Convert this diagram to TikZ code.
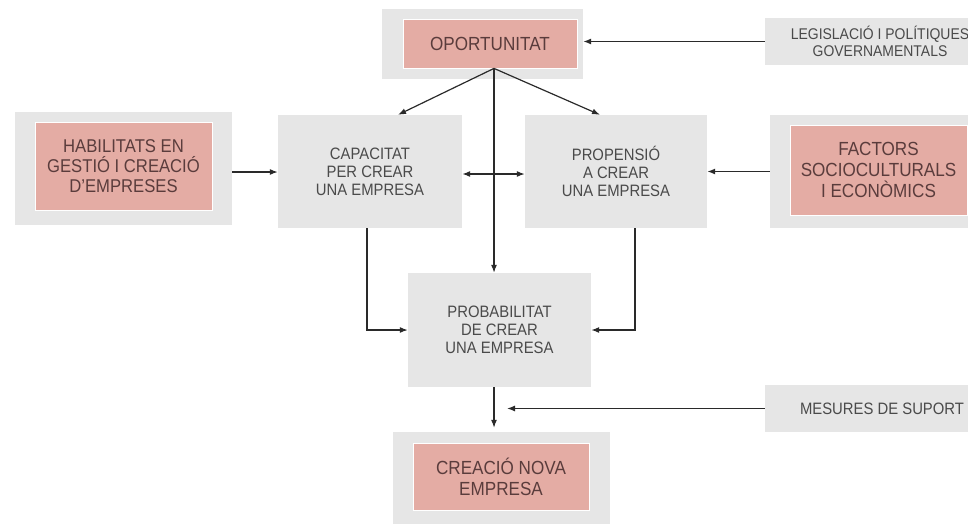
\documentclass[tikz,border=0pt]{standalone}
\usepackage{fontspec}
\setmainfont{Liberation Sans}[FakeStretch=0.9]
\usetikzlibrary{arrows.meta}
\definecolor{boxgrey}{HTML}{E6E6E6}
\definecolor{boxpink}{HTML}{E4ACA4}
\definecolor{txtgrey}{HTML}{4A4A4A}
\definecolor{txtpink}{HTML}{5A3C3C}
\definecolor{linecol}{HTML}{2A2A2A}
\begin{document}
\begin{tikzpicture}[x=1pt,y=-1pt,
  greybox/.style={fill=boxgrey, draw=none, inner sep=0pt, align=center, text=txtgrey, font=\fontsize{16.5}{18}\selectfont},
  outerbox/.style={fill=boxgrey, draw=none, inner sep=0pt},
  pinkbox/.style={fill=boxpink, draw=white, line width=0.8pt, inner sep=0pt, align=center, text=txtpink, font=\fontsize{19}{21}\selectfont},
  conn/.style={draw=linecol, line width=1.2pt, -{Latex[length=8pt,width=6pt]}},
  bconn/.style={draw=linecol, line width=1.2pt, {Latex[length=8pt,width=6pt]}-{Latex[length=8pt,width=6pt]}},
]
\useasboundingbox (0,0) rectangle (968,523);
% boxes
\node[outerbox, minimum width=201pt, minimum height=70pt] (opo_out) at (482.5,44) {};
\node[pinkbox, minimum width=174pt, minimum height=49pt] (opo) at (490,43.5) {OPORTUNITAT};
\node[greybox, minimum width=230pt, minimum height=47pt, font=\fontsize{15.5}{17}\selectfont] (leg) at (880,41.5) {LEGISLACIÓ I POLÍTIQUES\\GOVERNAMENTALS};
\node[outerbox, minimum width=217pt, minimum height=113pt] (hab_out) at (123.5,168.5) {};
\node[pinkbox, minimum width=177pt, minimum height=88pt, font=\fontsize{18.5}{20}\selectfont] (hab) at (123.5,166) {HABILITATS EN\\GESTIÓ I CREACIÓ\\D’EMPRESES};
\node[greybox, minimum width=184pt, minimum height=113pt] (cap) at (370,171.5) {CAPACITAT\\PER CREAR\\UNA EMPRESA};
\node[greybox, minimum width=182pt, minimum height=113pt] (prop) at (616,171.5) {PROPENSIÓ\\A CREAR\\UNA EMPRESA};
\node[outerbox, minimum width=205pt, minimum height=113pt] (fact_out) at (872.5,171.5) {};
\node[pinkbox, minimum width=177pt, minimum height=90pt] (fact) at (878.5,170) {FACTORS\\SOCIOCULTURALS\\I ECONÒMICS};
\node[greybox, minimum width=183pt, minimum height=114pt] (prob) at (499.5,330) {PROBABILITAT\\DE CREAR\\UNA EMPRESA};
\node[greybox, minimum width=234pt, minimum height=47pt] (mes) at (882,408.5) {MESURES DE SUPORT};
\node[outerbox, minimum width=217pt, minimum height=98pt] (cre_out) at (501.5,481) {};
\node[pinkbox, minimum width=176pt, minimum height=67pt] (cre) at (501,476.5) {CREACIÓ NOVA\\EMPRESA};
\coordinate (mesend) at (507,408.5);
% connectors
\draw[conn] (leg.west) -- (leg.west -| opo_out.east);
\draw[conn] ([xshift=4pt]opo.south) -- ([xshift=28pt]cap.north);
\draw[conn] ([xshift=4pt]opo.south) -- ([xshift=-16pt]prop.north);
\draw[conn] ([xshift=4pt]opo.south) -- ([xshift=4pt]opo.south |- prob.north);
\draw[conn] ([yshift=-3.5pt]hab_out.east) -- ([yshift=-3.5pt]hab_out.east -| cap.west);
\draw[bconn] ([yshift=-2.5pt]cap.east) -- ([yshift=-2.5pt]prop.west);
\draw[conn] (fact_out.west) -- (prop.east);
\draw[conn] ([xshift=-3pt]cap.south) |- (prob.west);
\draw[conn] ([xshift=19pt]prop.south) |- (prob.east);
\draw[conn, shorten >=4pt] ([xshift=-5.5pt]prob.south) -- ([xshift=-5.5pt]prob.south |- cre_out.north);
\draw[conn] (mes.west) -- (mesend);
\end{tikzpicture}
\end{document}
